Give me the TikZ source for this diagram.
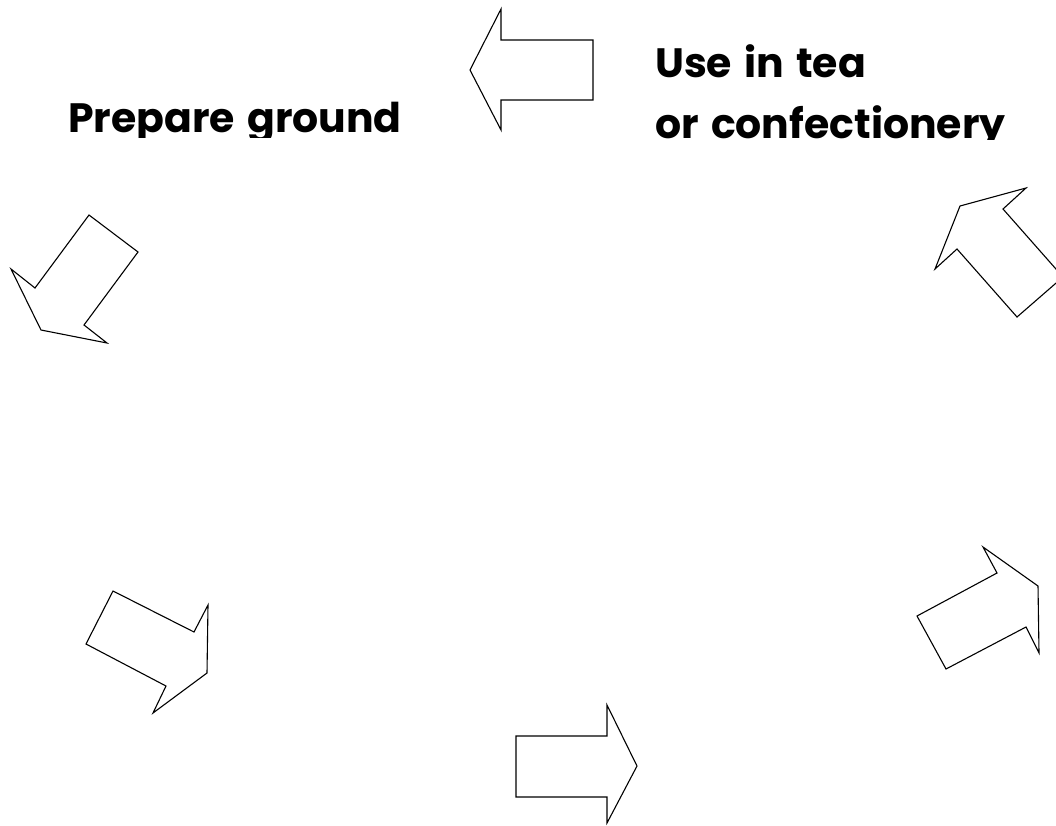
\documentclass[tikz,border=0pt]{standalone}
\usepackage{fontspec}
\setmainfont{Poppins}[WordSpace=1.4]
\begin{document}
\begin{tikzpicture}[x=1pt,y=-1pt,
  blockarrow/.style={draw=black,line width=1.1pt,line join=miter,fill=white},
  label/.style={inner sep=0pt,anchor=base west,font=\fontsize{41}{48}\selectfont\bfseries}]
\useasboundingbox (0,0) rectangle (1056,825);
% top arrow (pointing left)
\draw[blockarrow] (470,70) -- (501,9) -- (501,40) -- (593,40) -- (593,100) -- (501,100) -- (501,130) -- cycle;
% upper-left arrow (pointing down-left)
\draw[blockarrow] (89,215) -- (138,252) -- (84,325) -- (107,343) -- (41,330) -- (11,269) -- (35,288) -- cycle;
% upper-right arrow (pointing up-left)
\draw[blockarrow] (1026,188) -- (1003,209) -- (1063,277) -- (1017,317) -- (957,249) -- (935,269) -- (960,206) -- cycle;
% lower-left arrow (pointing down-right)
\draw[blockarrow] (113,591) -- (194,632) -- (208,605) -- (207,673) -- (153,713) -- (166,686) -- (86,644) -- cycle;
% lower-right arrow (pointing up-right)
\draw[blockarrow] (983,547) -- (1038,586) -- (1039,653) -- (1026,627) -- (946,669) -- (917,616) -- (997,573) -- cycle;
% bottom arrow (pointing right)
\draw[blockarrow] (516,736) -- (607,736) -- (607,705) -- (637,766) -- (607,823) -- (607,797) -- (516,797) -- cycle;
% texts
\begin{scope}
\clip (0,0) rectangle (460,137);
\node[label] (prep) at (68,132) {Prepare ground};
\end{scope}
\begin{scope}
\clip (620,0) rectangle (1056,139);
\node[label] (use) at (655,77) {Use in tea};
\node[label] (conf) at (655,138) {or confectionery};
\end{scope}
\end{tikzpicture}
\end{document}
